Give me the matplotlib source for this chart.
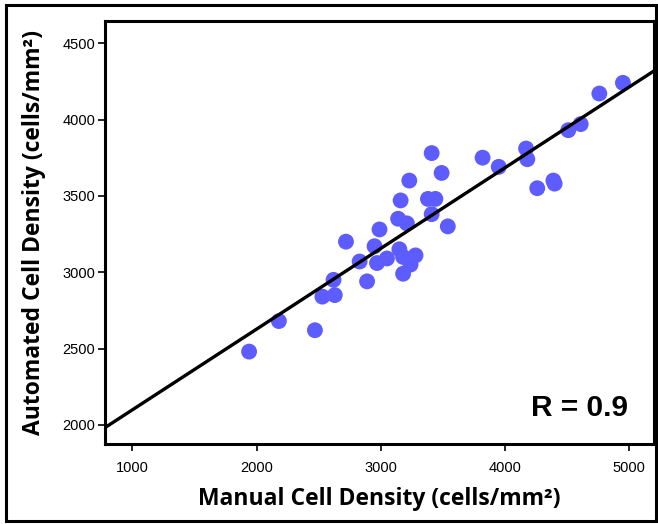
import numpy as np
import matplotlib
matplotlib.use('Agg')
import matplotlib.pyplot as plt
from matplotlib.patches import Rectangle

# values
manual = [1940, 2180, 2470, 2530, 2630, 2620, 2720, 2830, 2890, 2950,
          2990, 2970, 3050, 3150, 3140, 3210, 3160, 3230, 3180, 3240,
          3280, 3180, 3410, 3490, 3380, 3440, 3410, 3540, 3820, 3950,
          4170, 4180, 4260, 4390, 4400, 4510, 4610, 4760, 4950]
automated = [2480, 2680, 2620, 2840, 2850, 2950, 3200, 3070, 2940, 3170,
             3280, 3060, 3090, 3150, 3350, 3320, 3470, 3600, 2990, 3050,
             3110, 3100, 3780, 3650, 3480, 3480, 3380, 3300, 3750, 3690,
             3810, 3740, 3550, 3600, 3580, 3930, 3970, 4170, 4240]

fit_slope = 0.5285
fit_intercept = 1570
r_text = 'R = 0.9'

xlim = (780, 5200)
ylim = (1875, 4645)
xticks = [1000, 2000, 3000, 4000, 5000]
yticks = [2000, 2500, 3000, 3500, 4000, 4500]

fig = plt.figure(figsize=(6.58, 5.24), dpi=100)
ax = fig.add_axes([0.1596, 0.1527, 0.8343, 0.8072])

ax.scatter(manual, automated, s=130, color='#5c5cff', edgecolors='none', zorder=3)

fx = np.array(xlim)
ax.plot(fx, fit_slope*fx + fit_intercept, color='black', lw=2.4, zorder=4)

ax.set_xlim(*xlim)
ax.set_ylim(*ylim)
ax.set_xticks(xticks)
ax.set_yticks(yticks)
ax.tick_params(direction='out', length=5, width=1.2, labelsize=10.5,
               top=False, right=False)
ax.tick_params(axis='x', pad=7)
ax.tick_params(axis='y', pad=2)
for lab in ax.get_xticklabels() + ax.get_yticklabels():
	lab.set_family('Liberation Sans')
for sp in ax.spines.values():
	sp.set_linewidth(2.2)

ax.set_xlabel('Manual Cell Density (cells/mm²)', family='Open Sans', weight='bold',
              fontsize=16.5, labelpad=9)
ax.set_ylabel('Automated Cell Density (cells/mm²)', family='Open Sans', weight='bold',
              fontsize=16.5, labelpad=12)

ax.text(0.953, 0.065, r_text, transform=ax.transAxes, ha='right', va='baseline',
        family='Liberation Sans', weight='bold', fontsize=21.5)

# outer frame round the whole figure
fig.patches.append(Rectangle((0.009, 0.006), 0.988, 0.984, transform=fig.transFigure,
                             fill=False, lw=2.2, edgecolor='black'))

fig.savefig('out.png', dpi=100)
